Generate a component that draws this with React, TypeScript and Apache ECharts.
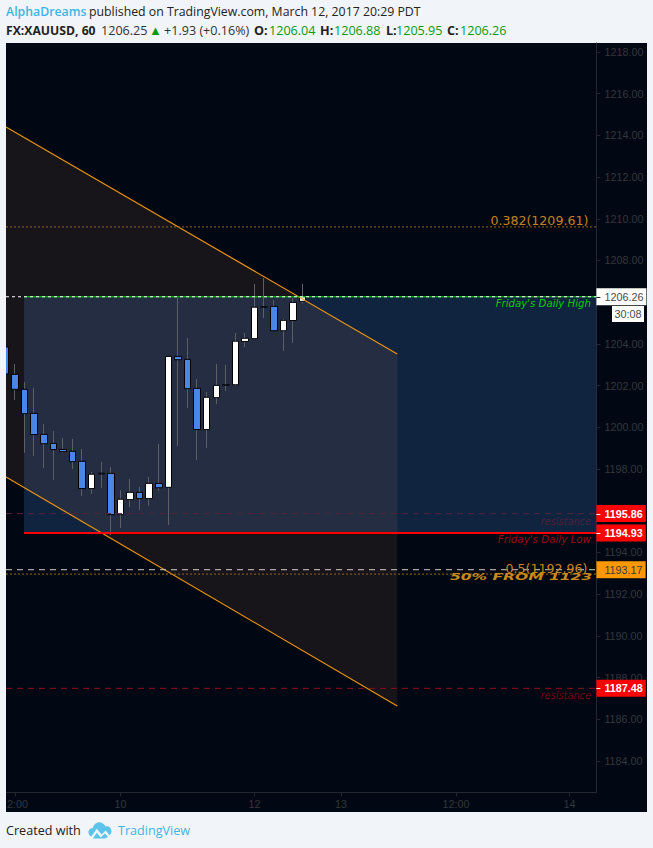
import React, { useEffect, useRef } from "react";
import * as echarts from "echarts";

const opens = [1203.85, 1202.54, 1201.82, 1200.67, 1199.66, 1199.23, 1198.94, 1198.85, 1198.37, 1197.06, 1197.8, 1197.79, 1195.81, 1196.53, 1196.88, 1196.58, 1197.31, 1197.12, 1203.4, 1203.26, 1201.87, 1199.89, 1201.42, 1202.02, 1202.04, 1204.11, 1204.25, 1205.77, 1205.8, 1204.63, 1205.12, 1206.04];
const closes = [1202.56, 1201.82, 1200.65, 1199.65, 1199.21, 1198.93, 1198.83, 1198.35, 1197.06, 1197.75, 1197.76, 1195.81, 1196.55, 1196.88, 1196.58, 1197.31, 1197.1, 1203.4, 1203.24, 1201.85, 1199.89, 1201.44, 1202.01, 1202.03, 1204.13, 1204.27, 1205.76, 1205.78, 1204.63, 1205.13, 1205.99, 1206.26];
const lows = [1202.56, 1201.31, 1198.78, 1198.62, 1198.05, 1197.47, 1198.78, 1198.0, 1196.7, 1196.8, 1197.09, 1194.83, 1195.17, 1196.18, 1196.03, 1196.23, 1196.95, 1195.31, 1199.1, 1200.93, 1198.43, 1199.01, 1201.12, 1201.74, 1201.98, 1203.85, 1204.25, 1205.24, 1204.63, 1203.66, 1204.04, 1205.95];
const highs = [1203.85, 1203.04, 1202.17, 1201.89, 1200.16, 1199.82, 1199.49, 1199.44, 1198.96, 1197.86, 1198.33, 1198.1, 1196.99, 1197.52, 1197.14, 1197.62, 1199.2, 1203.4, 1206.2, 1204.28, 1202.32, 1201.69, 1203.04, 1202.99, 1204.52, 1204.52, 1206.87, 1207.16, 1206.1, 1205.2, 1206.2, 1206.88];

const priceTicks = [1184, 1186, 1188, 1190, 1192, 1194, 1196, 1198, 1200, 1202, 1204, 1206, 1208, 1210, 1212, 1214, 1216, 1218];
// 1196 and 1206 sit fully behind the price tags in the reference
const priceLabels = [1184, 1186, 1188, 1190, 1192, 1194, 1198, 1200, 1202, 1204, 1208, 1210, 1212, 1214, 1216, 1218];
const timeTickPositions = [1, 12, 26, 35, 47, 58.86];
const timeTickLabels = ["2:00", "10", "12", "13", "12:00", "14"];

const X_MIN = 0.06;
const X_MAX = 61.66;
const Y_MIN = 1182.49;
const Y_MAX = 1218.43;
const BOX_START = 1.94;
const CHANNEL_END = 40.88;

const channelTop = [1214.4, 1203.52];
const channelBottom = [1197.62, 1186.63];
const boxPrices = [1206.26, 1194.93];

// level: price, start, colour, line kind, width, tag background, tag text colour, bold
const levels: any[] = [
  [1209.61, X_MIN, "#9a6212", [2, 2], 1, null, null, false],
  [1206.26, BOX_START, "#00e000", "solid", 1, null, null, false],
  [1206.26, X_MIN, "#ffffff", [3, 3], 1, "#ffffff", "#4a4a4a", false],
  [1195.86, X_MIN, "#54233a", [6, 5], 1, "#ff0000", "#ffffff", true],
  [1194.93, BOX_START, "#ff0000", "solid", 2, "#ff0000", "#ffffff", true],
  [1193.17, X_MIN, "#cfcfc8", [6, 5], 1, "#ff9800", "#3a3a3a", false],
  [1192.96, X_MIN, "#9a6212", [2, 2], 1, null, null, false],
  [1187.48, X_MIN, "#8c0f1c", [6, 5], 1, "#ff0000", "#ffffff", true],
];

const SERIF_UI = "'DejaVu Sans'";
// annotation: text, right-edge position, price, colour, font, horizontal scale
const annotations: any[] = [
  ["0.382(1209.61)", 60.82, 1209.92, "#c8811c", `12.6px ${SERIF_UI}`, 1],
  ["Friday's Daily High", 61.1, 1205.95, "#00cc00", `italic 10.2px ${SERIF_UI}`, 1],
  ["resistance", 61.1, 1195.46, "#4a2238", `italic 9.8px ${SERIF_UI}`, 1],
  ["Friday's Daily Low", 61.1, 1194.62, "#9c0a14", `italic 10.3px ${SERIF_UI}`, 1],
  ["0.5(1192.96)", 60.72, 1193.24, "#c8861f", `12.6px ${SERIF_UI}`, 1],
  ["50% FROM 1123", 61.2, 1192.82, "#c98a1c", `italic bold 9px ${SERIF_UI}`, 1.72],
  ["resistance", 61.1, 1187.14, "#6e0612", `italic 9.8px ${SERIF_UI}`, 1],
];

const LOGO =
  "M2 19 C-1 15 1 10 6 10 C7 5 12 2 16 3 C19 4 21 6 22 8 C25 7 29 9 29 13 C30 14 29 17 27 19 L22 13 L17 18 L11 11 L4 21 Z M6 23 L11 16 L16 22 L21 17 L25 21 C24 22 23 23 21 23 Z";

const uiFont = "'Open Sans'";
const PAGE_BG = "#f1f4f8";

function text(x: number, y: number, t: string, fill: string, weight = "normal", size = 12.6): any {
  return {
    type: "text",
    x,
    y,
    silent: true,
    z: 5,
    style: { text: t, fill, font: `${weight} ${size}px ${uiFont}`, verticalAlign: "middle" },
  };
}

export default function App() {
  const ref = useRef<HTMLDivElement>(null);
  useEffect(() => {
    document.body.style.margin = "0";
    echarts.graphic.registerShape("logo", echarts.graphic.extendPath(LOGO as any, {} as any) as any);
    const chart = echarts.init(ref.current!, null, { renderer: "svg" });
    const xs = opens.map((_, i) => i);
    const green = "#0a9a14";

    const levelSeries = levels.map((l) => ({
      type: "line",
      silent: true,
      symbol: "none",
      z: 6,
      data: [
        [l[1], l[0]],
        [X_MAX, l[0]],
      ],
      lineStyle: { color: l[2], type: l[3], width: l[4] },
      endLabel: l[5]
        ? {
            show: true,
            distance: 0,
            formatter: () => l[0].toFixed(2),
            backgroundColor: l[5],
            color: l[6],
            fontFamily: "'Liberation Sans'",
            fontSize: 10.8,
            fontWeight: l[7] ? "bold" : "normal",
            padding: [3, 3, 3, 8],
          }
        : undefined,
    }));

    const option: any = {
      animation: false,
      backgroundColor: PAGE_BG,
      grid: { left: 6, top: 43, width: 590.4, height: 749.4, containLabel: false },
      xAxis: {
        type: "value",
        min: X_MIN,
        max: X_MAX,
        splitLine: { show: false },
        axisLine: { show: true, onZero: false, lineStyle: { color: "#23272f" } },
        axisTick: { show: true, length: 4, customValues: timeTickPositions, lineStyle: { color: "#23272f" } },
        axisLabel: {
          customValues: timeTickPositions,
          formatter: (v: number) => {
            const label = timeTickLabels[timeTickPositions.indexOf(v)] ?? "";
            return label === "2:00" ? `{shift|${label}}` : label;
          },
          rich: { shift: { padding: [0, 0, 0, 5], color: "#33373d", fontFamily: "'Liberation Sans'", fontSize: 10.8 } },
          color: "#33373d",
          fontFamily: "'Liberation Sans'",
          fontSize: 10.8,
          margin: 6,
          hideOverlap: false,
        },
      },
      yAxis: {
        type: "value",
        position: "right",
        min: Y_MIN,
        max: Y_MAX,
        splitLine: { show: false },
        axisLine: { show: true, onZero: false, lineStyle: { color: "#23272f" } },
        axisTick: { show: true, length: 4, customValues: priceTicks, lineStyle: { color: "#23272f" } },
        axisLabel: {
          customValues: priceLabels,
          formatter: (v: number) => v.toFixed(2),
          color: "#33373d",
          fontFamily: "'Liberation Sans'",
          fontSize: 10.8,
          margin: 8,
          hideOverlap: false,
        },
      },
      graphic: [
        { type: "rect", z: -10, silent: true, shape: { x: 6, y: 43, width: 641, height: 769 }, style: { fill: "#010813" } },
        { type: "rect", z: 50, silent: true, shape: { x: 0, y: 43, width: 6, height: 769 }, style: { fill: PAGE_BG } },
        text(6, 11.5, "AlphaDreams", "#3db4e6", "600", 12.3),
        text(89, 11.5, "published on TradingView.com, March 12, 2017 20:29 PDT", "#222222", "normal", 12.3),
        text(6, 30, "FX:XAUUSD, 60", "#222222", "bold", 12.2),
        text(101, 30, "1206.25", "#333333"),
        text(149, 29.5, "▲", green, "normal", 13),
        text(164, 30, "+1.93 (+0.16%)", "#333333"),
        text(254, 30, "O:", "#222222", "bold"),
        text(269, 30, "1206.04", green),
        text(320, 30, "H:", "#222222", "bold"),
        text(334, 30, "1206.88", green),
        text(386, 30, "L:", "#222222", "bold"),
        text(396, 30, "1205.95", green),
        text(447, 30, "C:", "#222222", "bold"),
        text(460, 30, "1206.26", green),
        text(6, 830, "Created with", "#222222", "normal", 12.6),
        { type: "logo", x: 88, y: 820, scaleX: 0.8, scaleY: 0.8, silent: true, z: 5, style: { fill: "#5cc3ea" } },
        text(118, 830, "TradingView", "#3db4e6", "normal", 12.6),
        {
          type: "rect",
          z: 20,
          silent: true,
          shape: { x: 612, y: 306, width: 32, height: 16 },
          style: { fill: "#ffffff" },
        },
        {
          type: "text",
          z: 21,
          x: 641.5,
          y: 314,
          silent: true,
          style: {
            text: "30:08",
            fill: "#4a4a4a",
            font: "10.8px 'Liberation Sans'",
            align: "right",
            verticalAlign: "middle",
          },
        },
      ],
      series: [
        {
          type: "custom",
          silent: true,
          z: 1,
          data: [[BOX_START, X_MAX, boxPrices[0], boxPrices[1]]],
          encode: { x: [0, 1], y: [2, 3] },
          renderItem: (_: any, api: any) => {
            const a = api.coord([api.value(0), api.value(2)]);
            const b = api.coord([api.value(1), api.value(3)]);
            return {
              type: "rect",
              shape: { x: a[0], y: a[1], width: b[0] - a[0], height: b[1] - a[1] },
              style: { fill: "rgba(76,143,235,0.21)" },
            };
          },
        },
        {
          type: "custom",
          silent: true,
          z: 1,
          data: [[X_MIN, CHANNEL_END, channelTop[0], channelTop[1], channelBottom[0], channelBottom[1]]],
          encode: { x: [0, 1], y: [2, 3, 4, 5] },
          renderItem: (_: any, api: any) => {
            const points = [
              api.coord([api.value(0), api.value(2)]),
              api.coord([api.value(1), api.value(3)]),
              api.coord([api.value(1), api.value(5)]),
              api.coord([api.value(0), api.value(4)]),
            ];
            return { type: "polygon", shape: { points }, style: { fill: "rgba(255,140,100,0.09)" } };
          },
        },
        {
          name: "wicks",
          type: "candlestick",
          silent: true,
          z: 3,
          barWidth: 1,
          encode: { x: 0, y: [1, 2, 3, 4] },
          data: xs.map((i) => [i, opens[i], closes[i], lows[i], highs[i]]),
          itemStyle: {
            color: "#5c6066",
            color0: "#5c6066",
            borderColor: "#5c6066",
            borderColor0: "#5c6066",
            borderWidth: 1,
          },
        },
        {
          name: "bodies",
          type: "candlestick",
          silent: true,
          z: 4,
          barWidth: 7,
          encode: { x: 0, y: [1, 2, 3, 4] },
          data: xs.map((i) => [
            i,
            opens[i],
            closes[i],
            Math.min(opens[i], closes[i]),
            Math.max(opens[i], closes[i]),
          ]),
          itemStyle: {
            color: "#ffffff",
            color0: "#4a86e8",
            borderColor: "#000000",
            borderColor0: "#000000",
            borderWidth: 1,
          },
        },
        {
          type: "line",
          silent: true,
          symbol: "none",
          z: 5,
          data: [
            [X_MIN, channelTop[0]],
            [CHANNEL_END, channelTop[1]],
          ],
          lineStyle: { color: "#e8930f", width: 1.2 },
        },
        {
          type: "line",
          silent: true,
          symbol: "none",
          z: 5,
          data: [
            [X_MIN, channelBottom[0]],
            [CHANNEL_END, channelBottom[1]],
          ],
          lineStyle: { color: "#e8930f", width: 1.2 },
        },
        ...levelSeries,
        {
          type: "custom",
          silent: true,
          z: 8,
          data: annotations.map((a, i) => [a[1], a[2], i]),
          encode: { x: 0, y: 1 },
          renderItem: (_: any, api: any) => {
            const p = api.coord([api.value(0), api.value(1)]);
            const a = annotations[api.value(2)];
            return {
              type: "text",
              x: p[0],
              y: p[1],
              scaleX: a[5],
              style: { text: a[0], fill: a[3], font: a[4], align: "right", verticalAlign: "middle" },
            };
          },
        },
        {
          type: "custom",
          silent: true,
          z: 30,
          data: levels.filter((l) => l[5] && l[5] !== "#ff9800").map((l) => [X_MAX, l[0], l[6] === "#ffffff" ? 0 : 1]),
          encode: { x: 0, y: 1 },
          renderItem: (_: any, api: any) => {
            const p = api.coord([api.value(0), api.value(1)]);
            const y = Math.round(p[1]) + 0.5;
            return {
              type: "line",
              shape: { x1: p[0], y1: y, x2: p[0] + 4, y2: y },
              style: { stroke: api.value(2) ? "#222222" : "#ffffff", lineWidth: 1 },
            };
          },
        },
      ],
    };
    chart.setOption(option);
    return () => chart.dispose();
  }, []);
  return <div ref={ref} style={{ width: 653, height: 848 }} />;
}
